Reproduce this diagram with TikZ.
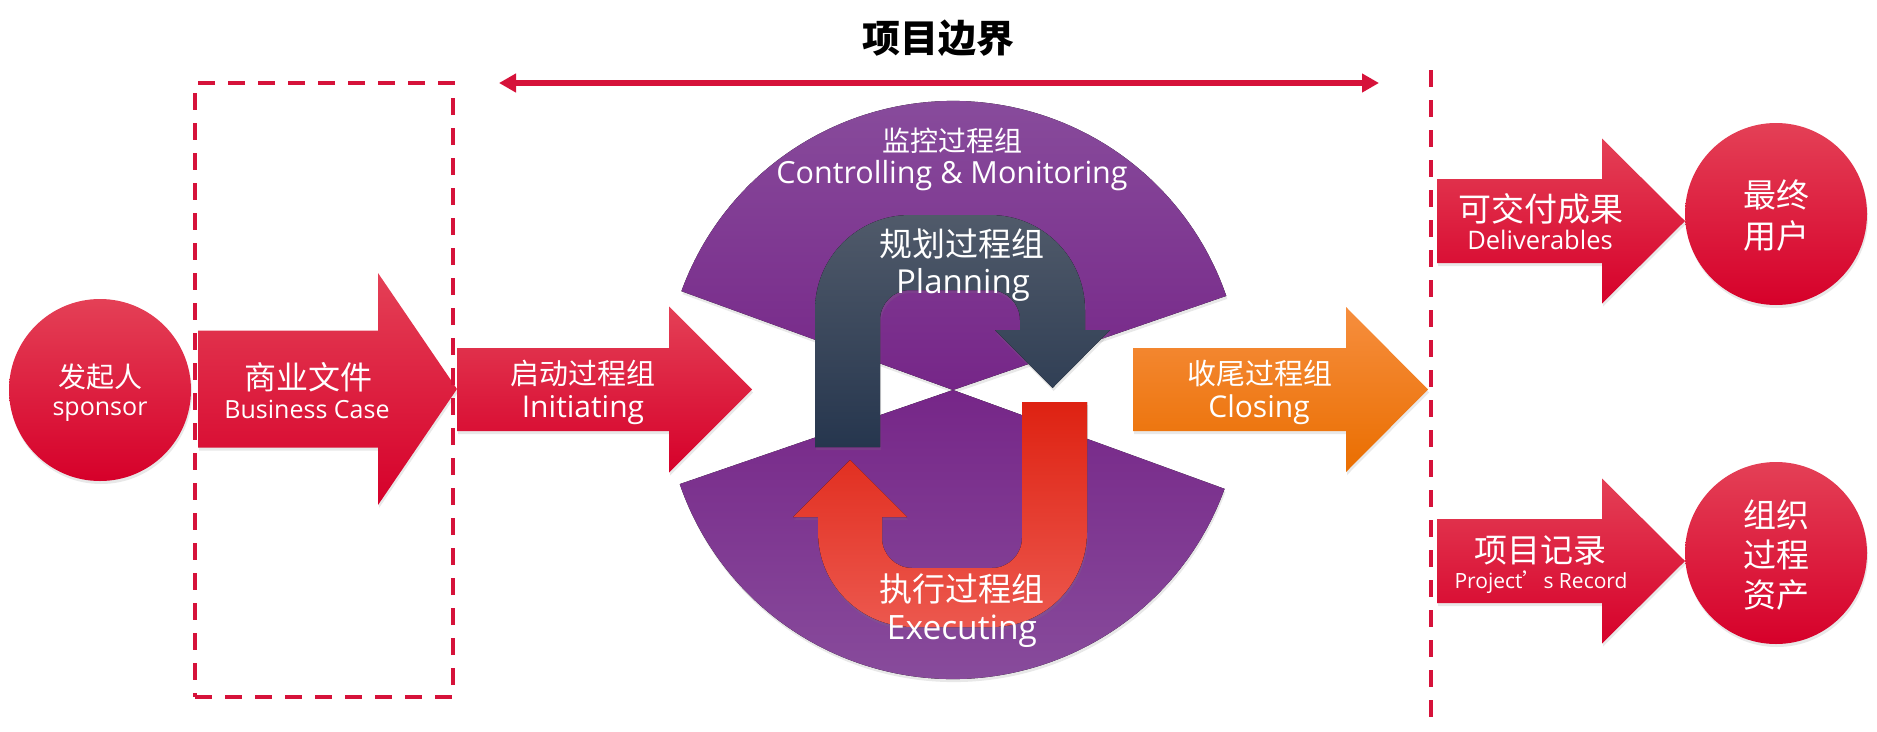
\documentclass[tikz,border=0pt]{standalone}
\usepackage{fontspec}
\newfontfamily\cjk{Noto Sans CJK SC}
\newfontfamily\latin{Open Sans}
\usetikzlibrary{arrows.meta,shadows}

\definecolor{redtop}{RGB}{228,64,86}
\definecolor{redbot}{RGB}{214,0,42}
\definecolor{orgtop}{RGB}{246,142,62}
\definecolor{orgmid}{RGB}{245,122,0}
\definecolor{orgbot}{RGB}{234,110,0}
\definecolor{purtop}{RGB}{138,80,158}
\definecolor{purmid}{RGB}{118,38,136}
\definecolor{slatetop}{RGB}{80,90,106}
\definecolor{slatebot}{RGB}{38,54,78}
\definecolor{exetop}{RGB}{222,34,18}
\definecolor{exebot}{RGB}{236,88,78}
\definecolor{crimson}{RGB}{214,18,58}

\tikzset{
  soft/.style={drop shadow={opacity=.18, shadow xshift=1pt, shadow yshift=-3pt}},
  redfill/.style={top color=redtop, bottom color=redbot, soft},
  orangefill/.style={top color=orgtop, middle color=orgmid, bottom color=orgbot, soft},
  redball/.style={circle, minimum size=182pt, inner sep=0pt, redfill},
  cn/.style={anchor=base, text=white, inner sep=0pt, font=\cjk\fontsize{#1}{#1}\selectfont},
  en/.style={anchor=base, text=white, inner sep=0pt, font=\latin\fontsize{#1}{#1}\selectfont},
  border/.style={crimson, line width=4pt, dash pattern=on 17pt off 13pt},
}

\newcommand{\blockarrow}[7]{%
  \path[#1] (#2,#3-#4) -- (#5,#3-#4) -- (#5,#3-#6) -- (#7,#3)
    -- (#5,#3+#6) -- (#5,#3+#4) -- (#2,#3+#4) -- cycle;}

\begin{document}
\begin{tikzpicture}[x=1pt,y=-1pt]
  \useasboundingbox (0,0) rectangle (1877,731);

  \coordinate (ctr) at (953,390);
  \fill[top color=purtop, bottom color=purmid, soft] (ctr) -- ++(200:289)
    arc[start angle=200, end angle=341, radius=289] -- cycle;
  \fill[top color=purmid, bottom color=purtop, soft] (ctr) -- ++(20:289)
    arc[start angle=20, end angle=161, radius=289] -- cycle;

  \fill[top color=slatetop, bottom color=slatebot, soft]
    (815,447) -- (815,310) arc[start angle=180, end angle=270, radius=95]
    -- (990,215) arc[start angle=270, end angle=360, radius=95]
    -- (1085,330) -- (1110,330) -- (1052.5,388) -- (995,330) -- (1020,330)
    -- (1020,320) arc[start angle=0, end angle=-90, radius=30]
    -- (910,290) arc[start angle=-90, end angle=-180, radius=30]
    -- (880,447) -- cycle;
  \fill[top color=exetop, bottom color=exebot, soft]
    (1022,402) -- (1087,402) -- (1087,532) arc[start angle=0, end angle=90, radius=95]
    -- (913,627) arc[start angle=90, end angle=180, radius=95]
    -- (818,517) -- (793,517) -- (850,460) -- (907,517) -- (882,517)
    -- (882,538) arc[start angle=180, end angle=90, radius=30]
    -- (992,568) arc[start angle=90, end angle=0, radius=30]
    -- cycle;

  \node[redball] (sponsor) at (100,390) {};
  \node[redball] (enduser) at (1776,214) {};
  \node[redball] (assets) at (1776,553) {};

  \blockarrow{redfill}{198}{389}{58.5}{378}{116}{457}
  \blockarrow{redfill}{457}{389.5}{41.5}{669}{83}{752}
  \blockarrow{orangefill}{1133}{389.5}{41.5}{1346}{82.5}{1428}
  \blockarrow{redfill}{1437}{221}{42}{1602}{82.5}{1685}
  \blockarrow{redfill}{1437}{561}{42}{1602}{82.5}{1685}

  \node[border, draw, minimum width=258pt, minimum height=614pt] (bizscope) at (324,390) {};
  \coordinate (edgetop) at (1431,70);
  \coordinate (edgebot) at (1431,720);
  \draw[border] (edgetop) -- (edgebot);

  \node[anchor=base, inner sep=0pt, font=\cjk\bfseries\fontsize{38}{38}\selectfont] (bound) at (938,52) {项目边界};
  \coordinate (bndl) at (499,83);
  \coordinate (bndr) at (1379,83);
  \draw[crimson, line width=6pt, {Triangle[length=17pt,width=18pt]}-{Triangle[length=17pt,width=18pt]}] (bndl) -- (bndr);

  \node[cn=28] (sponsorcn) at (100,387) {发起人};
  \node[en=25] (sponsoren) at (100,415) {sponsor};
  \node[cn=32] (bizcn) at (308,389) {商业文件};
  \node[en=25] (bizen) at (307,418) {Business Case};
  \node[cn=29] (initcn) at (583,384) {启动过程组};
  \node[en=30] (initen) at (583,417) {Initiating};
  \node[cn=28] (ctrlcn) at (952,151) {监控过程组};
  \node[en=30.5] (ctrlen) at (952,183) {Controlling \& Monitoring};
  \node[cn=33] (plancn) at (962,256) {规划过程组};
  \node[en=33] (planen) at (963,293) {Planning};
  \node[cn=33] (execcn) at (962,601) {执行过程组};
  \node[en=33.5] (execen) at (962,639) {Executing};
  \node[cn=29] (closecn) at (1260,384) {收尾过程组};
  \node[en=30] (closeen) at (1259,417) {Closing};
  \node[cn=33] (delivcn) at (1541,221) {可交付成果};
  \node[en=25.5] (deliven) at (1540,249) {Deliverables};
  \node[cn=33] (usercn) at (1776,207) {最终};
  \node[cn=33] (usercn2) at (1776,248) {用户};
  \node[cn=33] (recordcn) at (1540,562) {项目记录};
  \node[en=21] (recorden) at (1541,588) {Project{\cjk ’}s Record};
  \node[cn=33] (assetcn) at (1776,527) {组织};
  \node[cn=33] (assetcn2) at (1776,567) {过程};
  \node[cn=33] (assetcn3) at (1776,607) {资产};
\end{tikzpicture}
\end{document}
